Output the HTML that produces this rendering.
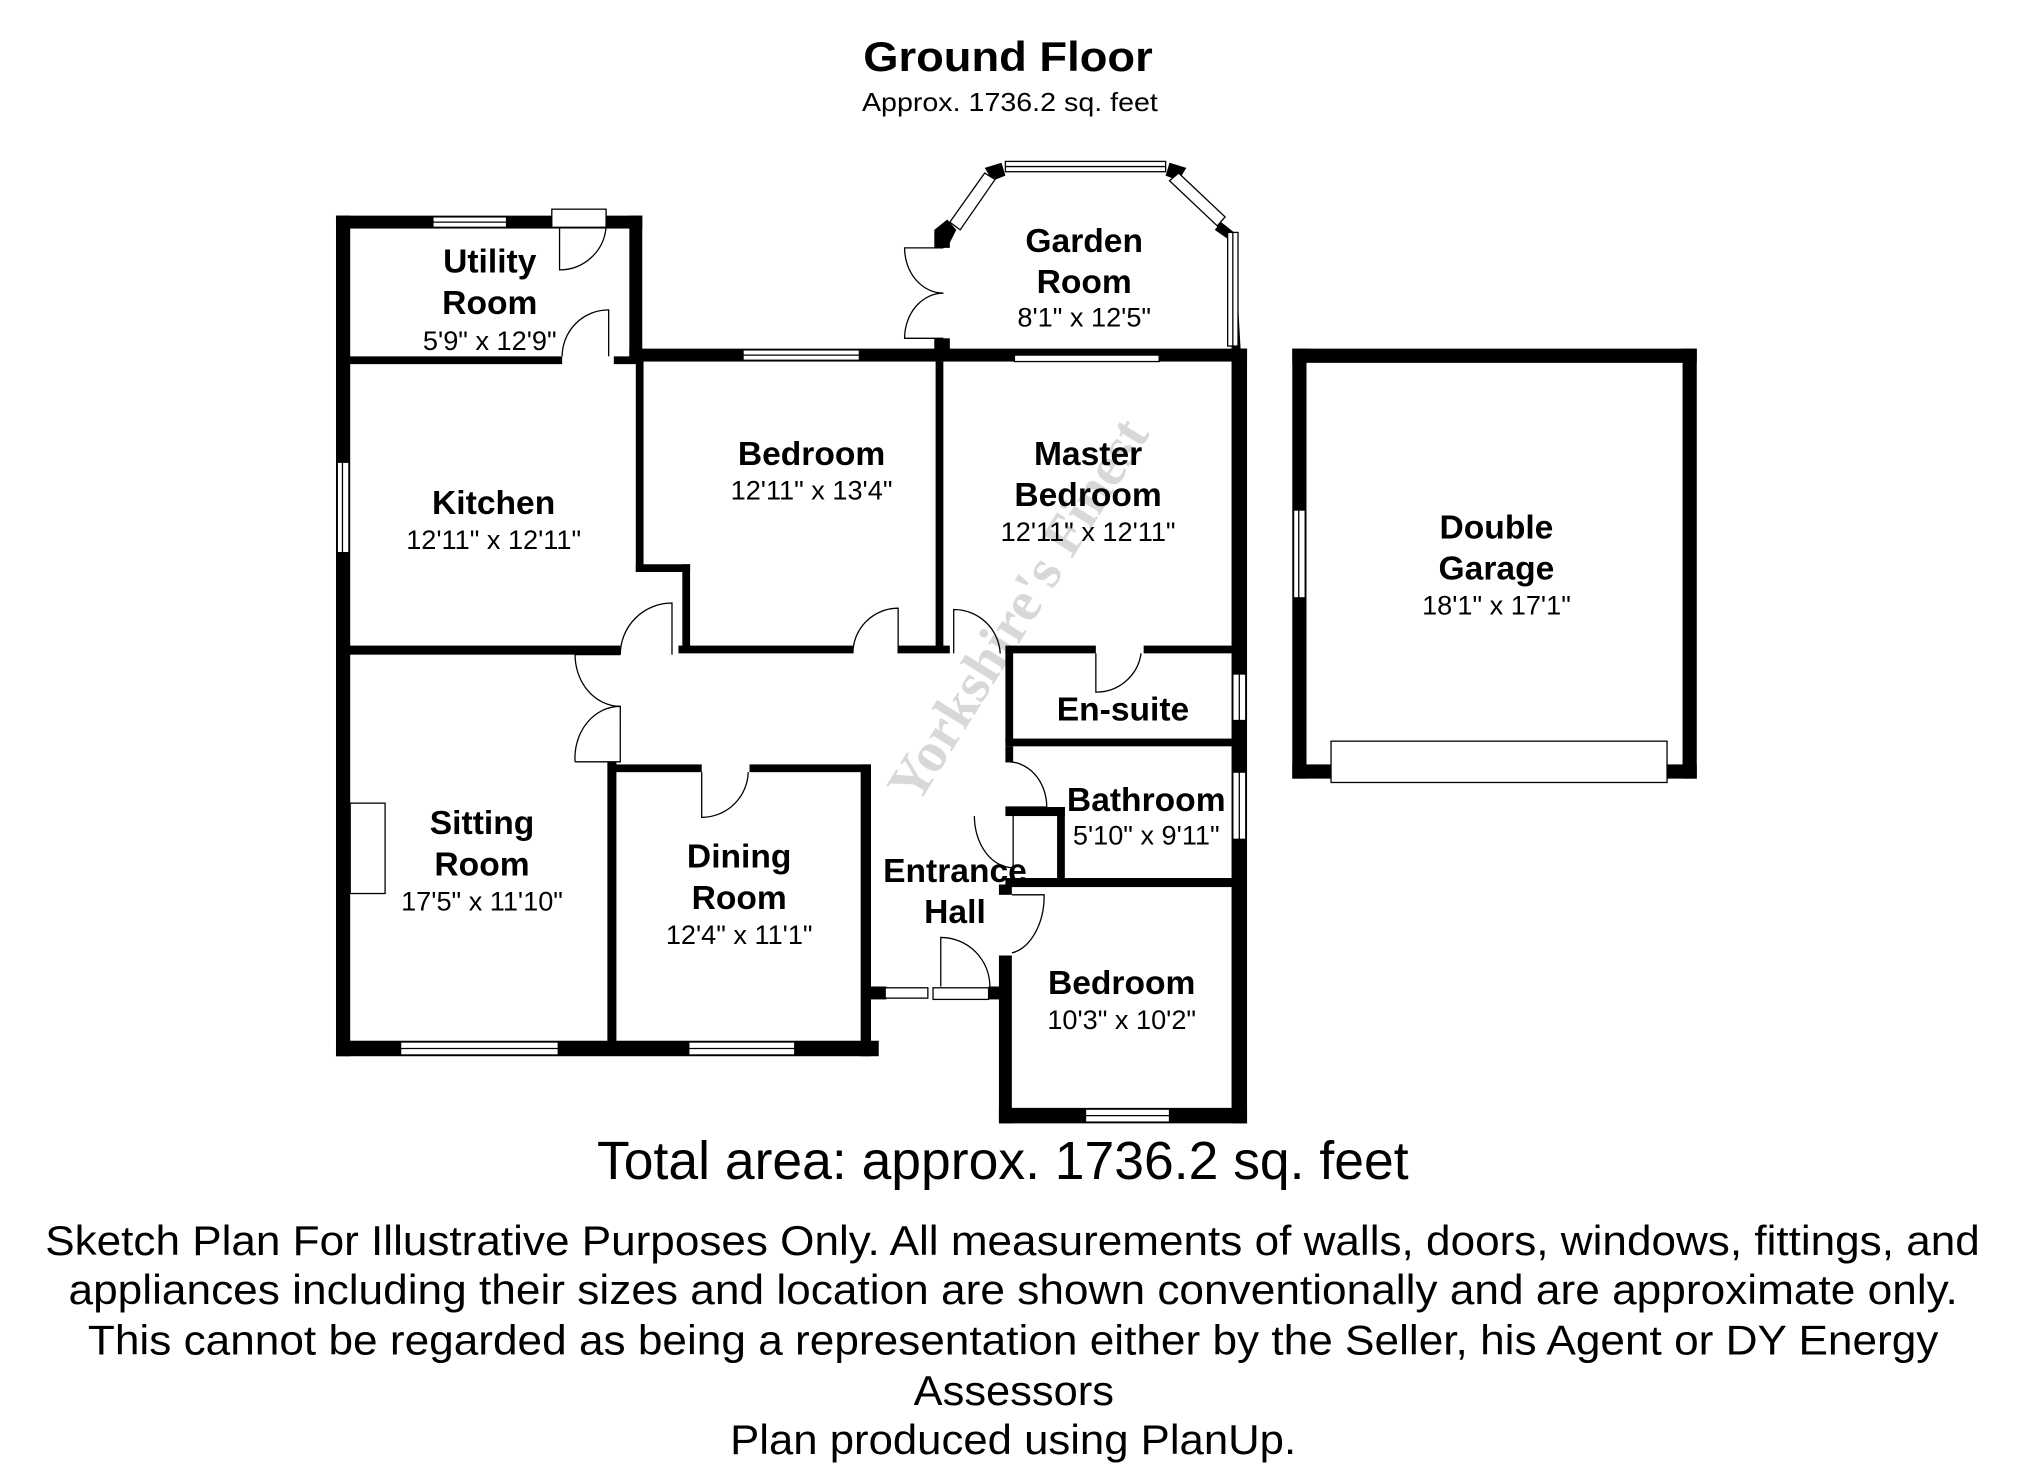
<!DOCTYPE html>
<html><head><meta charset="utf-8"><style>
html,body{margin:0;padding:0;background:#fff;}
svg{display:block;}
text{font-family:"Liberation Sans",sans-serif;fill:#000;}
.b{font-weight:bold;font-size:26px;text-anchor:middle;}
.d{font-size:21px;text-anchor:middle;}
.f{font-size:32px;}
</style></head><body>
<svg width="2025" height="1472" viewBox="0 0 1567 1140" preserveAspectRatio="none" xmlns="http://www.w3.org/2000/svg">
<rect width="1567" height="1140" fill="#fff"/>
<text x="668" y="55" textLength="224" lengthAdjust="spacingAndGlyphs" style="font-weight:bold;font-size:32px">Ground Floor</text>
<text x="667" y="86" textLength="229" lengthAdjust="spacingAndGlyphs" style="font-size:20px">Approx. 1736.2 sq. feet</text>

<text x="0" y="0" transform="translate(800,480) rotate(-58)" style="font-family:'Liberation Serif',serif;font-weight:bold;font-size:44px;fill:#d8d8d8;text-anchor:middle">Yorkshire's Finest</text>

<g fill="#000">
<rect x="260" y="167" width="11" height="651"/>
<rect x="260" y="167" width="237" height="10"/>
<rect x="487" y="167" width="10" height="113"/>
<rect x="270" y="276" width="165" height="6"/>
<rect x="475" y="276" width="22" height="6"/>
<rect x="487" y="270" width="478" height="10"/>
<rect x="953" y="270" width="12" height="600"/>
<rect x="492" y="280" width="6" height="163"/>
<rect x="492" y="437" width="42" height="6"/>
<rect x="528" y="437" width="6" height="68"/>
<rect x="724" y="280" width="6" height="225"/>
<rect x="270" y="500" width="210" height="7"/>
<rect x="525" y="500" width="135" height="6"/>
<rect x="695" y="500" width="40" height="6"/>
<rect x="778" y="500" width="70" height="6"/>
<rect x="885" y="500" width="70" height="6"/>
<rect x="470" y="590" width="7" height="218"/>
<rect x="476" y="592" width="67" height="6"/>
<rect x="580" y="592" width="94" height="6"/>
<rect x="666" y="592" width="8" height="226"/>
<rect x="260" y="806" width="420" height="12"/>
<rect x="674" y="764" width="12" height="10"/>
<rect x="765" y="764" width="15" height="10"/>
<rect x="778" y="505" width="6" height="70"/>
<rect x="778" y="572" width="177" height="6"/>
<rect x="778" y="578" width="6" height="12"/>
<rect x="778" y="625" width="46" height="7"/>
<rect x="818" y="625" width="6" height="60"/>
<rect x="778" y="680" width="177" height="7"/>
<rect x="773" y="685" width="10" height="8"/>
<rect x="773" y="740" width="10" height="130"/>
<rect x="773" y="858" width="192" height="12"/>
<rect x="1000" y="270" width="313" height="11"/>
<rect x="1000" y="270" width="11" height="333"/>
<rect x="1302" y="270" width="11" height="333"/>
<rect x="1000" y="592" width="30" height="11"/>
<rect x="1290" y="592" width="23" height="11"/>
<polygon points="723,178 733,170 740,178 735,188 735,192 723,192"/>
<rect x="723" y="262" width="12" height="10"/>
<polygon points="762,130 775,126 778,136 768,140"/>
<polygon points="905,126 918,130 912,140 902,136"/>
<polygon points="945,172 955,180 960,270 953,270 950,185 940,178"/>
</g>

<g fill="#fff" stroke="#000" stroke-width="1">
<rect x="335" y="168" width="57" height="8"/>
<rect x="427" y="162" width="42" height="14"/>
<rect x="575" y="271" width="90" height="8"/>
<rect x="261" y="358" width="9" height="70"/>
<rect x="310" y="807" width="122" height="10"/>
<rect x="533" y="807" width="82" height="10"/>
<rect x="685" y="765" width="33" height="8"/>
<rect x="722" y="765" width="43" height="9"/>
<rect x="954" y="522" width="10" height="36"/>
<rect x="954" y="598" width="10" height="52"/>
<rect x="840" y="859" width="65" height="10"/>
<rect x="1001" y="395" width="9" height="68"/>
<rect x="1030" y="574" width="260" height="32"/>
<rect x="778" y="125" width="124" height="8"/>
<rect x="950" y="180" width="8" height="88"/>
<rect x="785" y="275" width="112" height="5"/>
<polygon points="735,172 762,134 770,139 743,178"/>
<polygon points="912,134 948,168 942,175 905,140"/>
</g>
<g stroke="#000" stroke-width="1">
<line x1="335" y1="172" x2="392" y2="172"/>
<line x1="575" y1="275" x2="665" y2="275"/>
<line x1="310" y1="812" x2="432" y2="812"/>
<line x1="533" y1="812" x2="615" y2="812"/>
<line x1="840" y1="864" x2="905" y2="864"/>
<line x1="778" y1="129" x2="902" y2="129"/>
<line x1="265" y1="358" x2="265" y2="428"/>
<line x1="1005" y1="395" x2="1005" y2="463"/>
<line x1="954" y1="180" x2="954" y2="268"/>
<line x1="959" y1="522" x2="959" y2="558"/>
<line x1="959" y1="598" x2="959" y2="650"/>
</g>

<g fill="none" stroke="#000" stroke-width="1">
<path d="M433,176 v33 a36,36 0 0 0 36,-33"/>
<path d="M435,276 a36,36 0 0 1 36,-36 v36"/>
<path d="M480,507 a40,40 0 0 1 40,-40 v40"/>
<path d="M480,507 h-35 a35,40 0 0 0 35,40 M445,590 a35,40 0 0 1 35,-43 v43 h-35"/>
<path d="M660,506 a35,35 0 0 1 35,-35 v35"/>
<path d="M738,506 v-34 a36,36 0 0 1 36,34"/>
<path d="M848,506 v30 a35,35 0 0 0 35,-30"/>
<path d="M543,598 v35 a36,36 0 0 0 36,-35"/>
<path d="M778,590 a30,35 0 0 1 32,35 h-32"/>
<path d="M784,632 v40 a30,40 0 0 1 -30,-40"/>
<path d="M783,693 h25 a30,45 0 0 1 -25,45"/>
<path d="M728,764 v-38 a38,38 0 0 1 38,38"/>
<path d="M730,192 h-30 a30,35 0 0 0 30,35"/>
<path d="M730,262 h-30 a30,35 0 0 1 30,-35"/>
</g>
<rect x="271" y="622" width="27" height="70" fill="none" stroke="#000" stroke-width="1"/>

<text x="379" y="211" class="b">Utility</text>
<text x="379" y="243" class="b">Room</text>
<text x="379" y="271" class="d">5'9" x 12'9"</text>
<text x="839" y="195" class="b">Garden</text>
<text x="839" y="227" class="b">Room</text>
<text x="839" y="253" class="d">8'1" x 12'5"</text>
<text x="628" y="360" class="b">Bedroom</text>
<text x="628" y="387" class="d">12'11" x 13'4"</text>
<text x="842" y="360" class="b">Master</text>
<text x="842" y="392" class="b">Bedroom</text>
<text x="842" y="419" class="d">12'11" x 12'11"</text>
<text x="382" y="398" class="b">Kitchen</text>
<text x="382" y="425" class="d">12'11" x 12'11"</text>
<text x="1158" y="417" class="b">Double</text>
<text x="1158" y="449" class="b">Garage</text>
<text x="1158" y="476" class="d">18'1" x 17'1"</text>
<text x="869" y="558" class="b">En-suite</text>
<text x="887" y="628" class="b">Bathroom</text>
<text x="887" y="654" class="d">5'10" x 9'11"</text>
<text x="373" y="646" class="b">Sitting</text>
<text x="373" y="678" class="b">Room</text>
<text x="373" y="705" class="d">17'5" x 11'10"</text>
<text x="572" y="672" class="b">Dining</text>
<text x="572" y="704" class="b">Room</text>
<text x="572" y="731" class="d">12'4" x 11'1"</text>
<text x="739" y="683" class="b">Entrance</text>
<text x="739" y="715" class="b">Hall</text>
<text x="868" y="770" class="b">Bedroom</text>
<text x="868" y="797" class="d">10'3" x 10'2"</text>

<text x="462" y="913" textLength="628" lengthAdjust="spacingAndGlyphs" style="font-size:42px">Total area: approx. 1736.2 sq. feet</text>
<text x="35" y="972" class="f" textLength="1497" lengthAdjust="spacingAndGlyphs">Sketch Plan For Illustrative Purposes Only. All measurements of walls, doors, windows, fittings, and</text>
<text x="53" y="1010" class="f" textLength="1462" lengthAdjust="spacingAndGlyphs">appliances including their sizes and location are shown conventionally and are approximate only.</text>
<text x="68" y="1049" class="f" textLength="1432" lengthAdjust="spacingAndGlyphs">This cannot be regarded as being a representation either by the Seller, his Agent or DY Energy</text>
<text x="707" y="1088" class="f" textLength="155" lengthAdjust="spacingAndGlyphs">Assessors</text>
<text x="565" y="1126" class="f" textLength="438" lengthAdjust="spacingAndGlyphs">Plan produced using PlanUp.</text>
</svg>
</body></html>
